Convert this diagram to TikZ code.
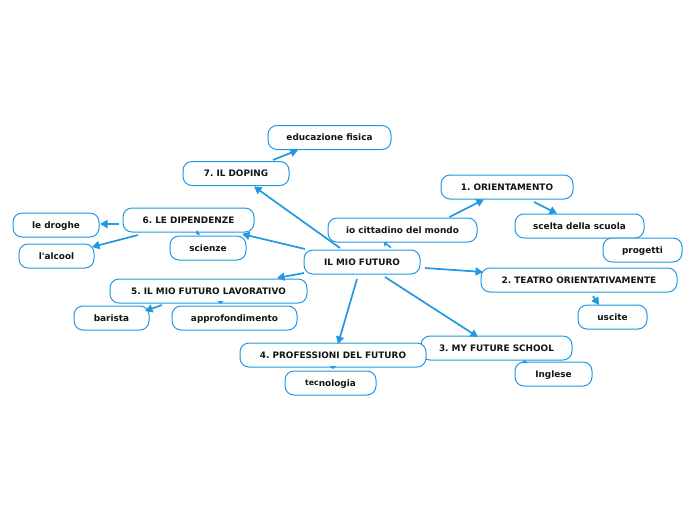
\documentclass[tikz,border=0pt]{standalone}
\usepackage{fontspec}
\setmainfont{DejaVu Sans}[BoldFont={DejaVu Sans Bold}, Ligatures=TeXOff]
\usetikzlibrary{calc,arrows.meta}
\definecolor{mmblue}{RGB}{32,152,226}
\definecolor{mmtext}{RGB}{20,20,20}
\frenchspacing
\tikzset{
  mmbox/.style={draw=mmblue, line width=1pt, fill=white, rounded corners=9pt,
    minimum height=24pt, inner sep=0pt, text=mmtext, text height=7.2pt, text depth=0.3pt,
    font=\fontsize{8.9}{10}\selectfont\bfseries},
  mmlink/.style={draw=mmblue, line width=1.7pt, -{Triangle[length=7.5pt,width=8pt]}},
  mmtiny/.style={draw=mmblue, line width=1.5pt, -{Triangle[length=3pt,width=6pt]}}
}
\begin{document}
\begin{tikzpicture}[x=1pt,y=-1pt]
\useasboundingbox (0,0) rectangle (696,520);
\node[mmbox, minimum width=123pt] (edu) at (329.5,137.5) {educazione fisica};
\node[mmbox, minimum width=106pt] (dop) at (236,173.5) {7. IL DOPING};
\node[mmbox, minimum width=132pt] (ori) at (507,187) {1. ORIENTAMENTO};
\node[mmbox, minimum width=131pt] (dip) at (188.5,220) {6. LE DIPENDENZE};
\node[mmbox, minimum width=86pt] (dro) at (56,225) {le droghe};
\node[mmbox, minimum width=149pt] (cit) at (402.5,230) {io cittadino del mondo};
\node[mmbox, minimum width=129pt] (sce) at (579.5,226) {scelta della scuola};
\node[mmbox, minimum width=76pt] (sci) at (208,248) {scienze};
\node[mmbox, minimum width=79pt] (pro) at (642.5,250) {progetti};
\node[mmbox, minimum width=75pt] (alc) at (56.5,256) {l'alcool};
\node[mmbox, minimum width=116pt] (main) at (362,262) {IL MIO FUTURO};
\node[mmbox, minimum width=196pt] (tea) at (579,280) {2. TEATRO ORIENTATIVAMENTE};
\node[mmbox, minimum width=197pt] (lav) at (208.5,291) {5. IL MIO FUTURO LAVORATIVO};
\node[mmbox, minimum width=75pt] (bar) at (111.5,318) {barista};
\node[mmbox, minimum width=125pt] (app) at (234.5,318) {approfondimento};
\node[mmbox, minimum width=69pt] (usc) at (612.5,317) {uscite};
\node[mmbox, minimum width=151pt] (myf) at (496.5,348) {3. MY FUTURE SCHOOL};
\node[mmbox, minimum width=186pt] (prof) at (333,355) {4. PROFESSIONI DEL FUTURO};
\node[mmbox, minimum width=77pt] (ing) at (553.5,374) {Inglese};
\node[mmbox, minimum width=91pt] (tec) at (330.5,383) {{\fontsize{7.8}{8}\selectfont\raisebox{0.9pt}{tec}}nologia};

\draw[mmlink] ($(main)+(-22,-14)$) -- ($(dop)+(18,13)$);
\draw[mmlink] ($(main)+(-57,-13)$) -- ($(dip)+(53.5,14)$);
\draw[mmlink] ($(main)+(-58,11)$) -- ($(lav)+(68.5,-13)$);
\draw[mmlink] ($(main)+(-5,17)$) -- ($(prof)+(5,-11)$);
\draw[mmlink] ($(main)+(23,15)$) -- ($(myf)+(-18.5,-11)$);
\draw[mmlink] ($(main)+(63,6)$) -- ($(tea)+(-96,-8)$);
\draw[mmtiny] ($(main)+(29,-14.5)$) -- ($(cit)+(-18.5,12.5)$);
\draw[mmlink] ($(cit)+(47,-13)$) -- ($(ori)+(-23,12.5)$);
\draw[mmlink] ($(ori)+(27,15)$) -- ($(sce)+(-22.5,-12.5)$);
\draw[mmlink] ($(dop)+(37,-13.5)$) -- ($(edu)+(-31.5,12.5)$);
\draw[mmlink] ($(dip)+(-70,4)$) -- ($(dro)+(44,-1)$);
\draw[mmlink] ($(dip)+(-50.5,15)$) -- ($(alc)+(35.5,-9)$);
\draw[mmtiny] ($(dip)+(10,12.5)$) -- ($(sci)+(-12,-14)$);
\draw[mmlink] ($(lav)+(-46.5,14)$) -- ($(bar)+(33.5,-7)$);
\draw[mmtiny] ($(lav)+(12,12.5)$) -- ($(app)+(-14,-14)$);
\draw[mmlink] ($(tea)+(14,16)$) -- ($(usc)+(-13.5,-12)$);
\draw[mmtiny] ($(prof)+(0,12.5)$) -- ($(tec)+(2.5,-14)$);
\draw[mmtiny] ($(myf)+(28,12.5)$) -- ($(ing)+(-29,-14)$);
\end{tikzpicture}
\end{document}
